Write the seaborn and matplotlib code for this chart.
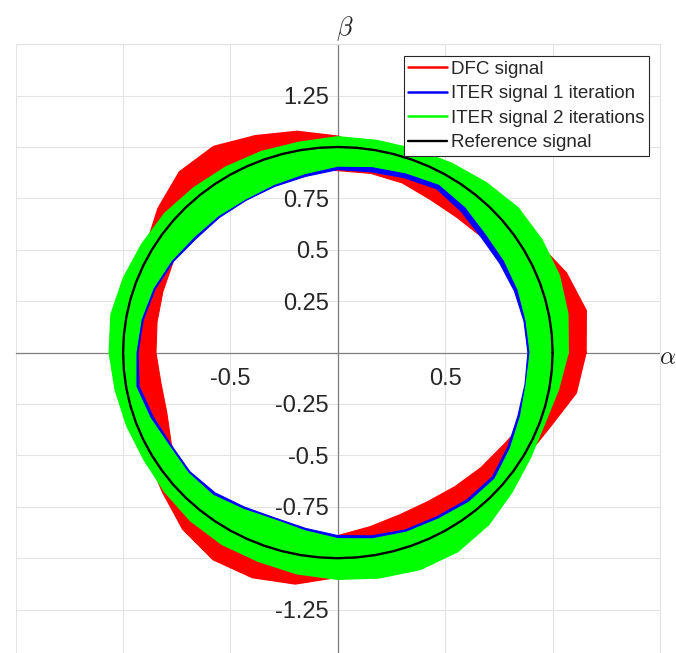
import numpy as np
import matplotlib
matplotlib.use('Agg')
import matplotlib.pyplot as plt
from matplotlib.path import Path
from matplotlib.patches import PathPatch
import seaborn as sns

# polar samples (angle in degrees, radius in pu)
angle_deg = [0, 10, 20, 30, 40, 50, 60, 70, 80, 90, 100, 110,
             120, 130, 140, 150, 160, 170, 180, 190, 200, 210, 220, 230,
             240, 250, 260, 270, 280, 290, 300, 310, 320, 330, 340, 350]

dfc_outer = [1.153, 1.172, 1.13, 1.07, 1.02, 0.98, 0.96, 0.97, 1.0, 1.05, 1.09, 1.12,
             1.155, 1.145, 1.09, 1.03, 0.98, 0.95, 0.94, 0.94, 0.97, 1.02, 1.06, 1.12,
             1.16, 1.162, 1.14, 1.09, 1.04, 1.0, 0.97, 0.96, 0.98, 1.01, 1.05, 1.125]
dfc_inner = [1.0, 0.99, 0.96, 0.92, 0.875, 0.86, 0.86, 0.878, 0.885, 0.885, 0.92, 0.96,
             1.0, 0.98, 0.93, 0.885, 0.867, 0.855, 0.847, 0.837, 0.848, 0.895, 0.94, 0.98,
             1.0, 1.0, 0.97, 0.89, 0.86, 0.84, 0.837, 0.85, 0.87, 0.893, 0.94, 0.98]

iter1_outer = [1.04, 1.05, 1.06, 1.06, 1.055, 1.04, 1.025, 1.015, 1.01, 1.01, 1.0, 1.0,
               1.0, 1.005, 1.01, 1.015, 1.025, 1.035, 1.03, 1.02, 1.01, 1.005, 1.01, 1.025,
               1.035, 1.04, 1.05, 1.06, 1.07, 1.08, 1.075, 1.05, 1.02, 1.0, 0.99, 1.01]
iter1_inner = [0.885, 0.88, 0.875, 0.87, 0.872, 0.895, 0.92, 0.905, 0.893, 0.89, 0.87, 0.86,
               0.855, 0.858, 0.862, 0.885, 0.905, 0.92, 0.93, 0.94, 0.915, 0.897, 0.9, 0.89,
               0.868, 0.856, 0.868, 0.89, 0.905, 0.918, 0.922, 0.935, 0.94, 0.915, 0.893, 0.885]

iter2_outer = [1.07, 1.085, 1.095, 1.095, 1.093, 1.075, 1.06, 1.05, 1.045, 1.047, 1.036, 1.038,
               1.04, 1.043, 1.05, 1.052, 1.06, 1.07, 1.062, 1.05, 1.043, 1.04, 1.05, 1.065,
               1.075, 1.078, 1.09, 1.10, 1.11, 1.12, 1.115, 1.09, 1.055, 1.03, 1.02, 1.04]
iter2_inner = [0.895, 0.89, 0.893, 0.895, 0.90, 0.925, 0.945, 0.93, 0.919, 0.907, 0.884, 0.87,
               0.862, 0.868, 0.875, 0.895, 0.915, 0.93, 0.94, 0.955, 0.93, 0.907, 0.91, 0.905,
               0.88, 0.865, 0.88, 0.905, 0.92, 0.93, 0.935, 0.95, 0.955, 0.928, 0.905, 0.89]

# reference signal: unit amplitude, sampled every 5 degrees
ref_angle_deg = list(range(0, 360, 5))
ref_radius = [1.0] * len(ref_angle_deg)

x_ticks = [-1.5, -1.0, -0.5, 0.0, 0.5, 1.0, 1.5]
x_tick_labels = ['', '', '-0.5', '', '0.5', '', '']
y_ticks = [-1.5, -1.25, -1.0, -0.75, -0.5, -0.25, 0.0, 0.25, 0.5, 0.75, 1.0, 1.25, 1.5]
y_tick_labels = ['', '-1.25', '', '-0.75', '-0.5', '-0.25', '', '0.25', '0.5', '0.75', '', '1.25', '']

series = [
    ('DFC signal', dfc_outer, dfc_inner, '#ff0000'),
    ('ITER signal 1 iteration', iter1_outer, iter1_inner, '#0000ff'),
    ('ITER signal 2 iterations', iter2_outer, iter2_inner, '#00ff00'),
]


def to_xy(radius, angles=angle_deg):
    th = np.deg2rad(angles)
    r = np.asarray(radius)
    x = r * np.cos(th)
    y = r * np.sin(th)
    return np.append(x, x[0]), np.append(y, y[0])


sns.set_style('white')
plt.rcParams['font.family'] = ['Liberation Sans', 'DejaVu Sans']
plt.rcParams['mathtext.fontset'] = 'cm'

fig = plt.figure(figsize=(6.76, 6.53), dpi=100)
ax = fig.add_axes([15.7 / 676, (653 - 661) / 653, 644.3 / 676, 616.8 / 653])

z = 3
for label, outer, inner, color in series:
    xo, yo = to_xy(outer)
    xi, yi = to_xy(inner)
    verts = np.concatenate([np.column_stack([xo, yo]), np.column_stack([xi, yi])[::-1]])
    codes = ([Path.MOVETO] + [Path.LINETO] * (len(xo) - 2) + [Path.CLOSEPOLY] +
             [Path.MOVETO] + [Path.LINETO] * (len(xi) - 2) + [Path.CLOSEPOLY])
    ax.add_patch(PathPatch(Path(verts, codes), facecolor=color, edgecolor=color,
                           lw=0.8, joinstyle='round', zorder=z))
    sns.lineplot(x=xo, y=yo, sort=False, estimator=None, color=color, lw=1.8,
                 label=label, ax=ax, zorder=z)
    z += 0.1

xr, yr = to_xy(ref_radius, ref_angle_deg)
sns.lineplot(x=xr, y=yr, sort=False, estimator=None, color='black', lw=1.7,
             label='Reference signal', ax=ax, zorder=4)

ax.set_xlim(-1.5, 1.5)
ax.set_ylim(-1.5, 1.5)
ax.set_xticks(x_ticks)
ax.set_xticklabels(x_tick_labels)
ax.set_yticks(y_ticks)
ax.set_yticklabels(y_tick_labels)

ax.grid(True, color='#e3e3e3', lw=0.8)
ax.set_axisbelow(True)
for side in ['left', 'bottom']:
    ax.spines[side].set_position('zero')
    ax.spines[side].set_color('#808080')
    ax.spines[side].set_linewidth(0.9)
    ax.spines[side].set_zorder(1)
for side in ['right', 'top']:
    ax.spines[side].set_color('#e3e3e3')
    ax.spines[side].set_linewidth(0.8)

ax.tick_params(axis='x', direction='in', length=3.6, width=0.9, color='#808080',
               labelsize=17, labelcolor='#262626', pad=11)
ax.tick_params(axis='y', direction='in', length=3.6, width=0.9, color='#808080',
               labelsize=17, labelcolor='#262626', pad=6.5)

ax.text(0.511, 1.026, r'$\beta$', transform=ax.transAxes, ha='center', va='center', fontsize=19)
ax.text(0.9985, 0.4929, r'$\alpha$', transform=ax.transAxes, ha='left', va='center', fontsize=18,
        clip_on=False)

leg = ax.legend(loc='upper right', bbox_to_anchor=(0.9834, 0.9813), borderaxespad=0,
                fontsize=13.5, frameon=True, fancybox=False, framealpha=1,
                edgecolor='#262626', handlelength=2.05, handletextpad=0.23,
                borderpad=0.25, labelspacing=0.4)
leg.get_frame().set_linewidth(0.8)
leg.set_zorder(6)

fig.savefig('out.png', dpi=100)
